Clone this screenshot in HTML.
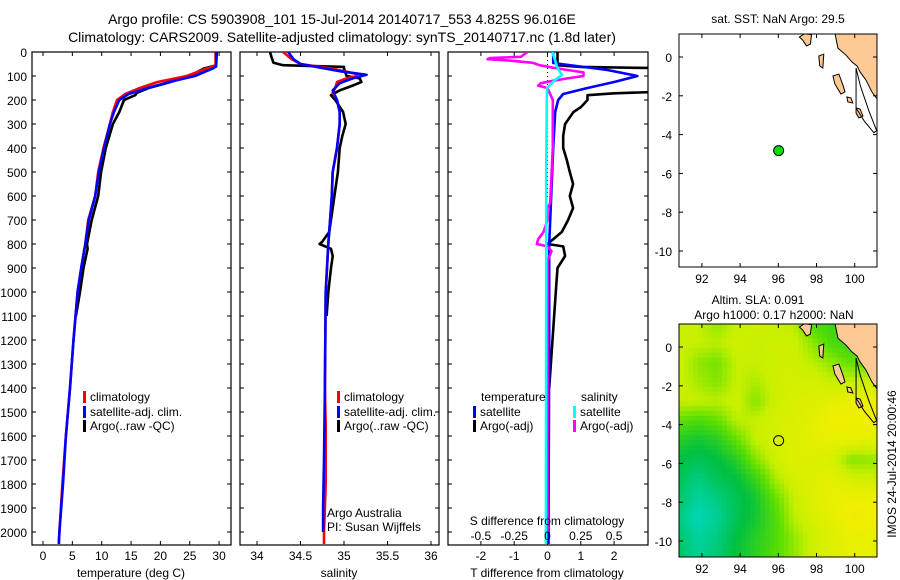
<!DOCTYPE html>
<html><head><meta charset="utf-8"><style>
body{margin:0;background:#fff;}
svg{display:block;font-family:"Liberation Sans",sans-serif;}
text{fill:#000;}
</style></head><body>
<svg id="c" width="900" height="580" viewBox="0 0 900 580" xmlns="http://www.w3.org/2000/svg">
<defs>
<clipPath id="cp1"><rect x="32" y="52" width="199" height="493"/></clipPath>
<clipPath id="cp2"><rect x="240" y="52" width="199" height="493"/></clipPath>
<clipPath id="cp3"><rect x="448" y="52" width="200" height="493"/></clipPath>
<clipPath id="cpm1"><rect x="679" y="34" width="198" height="233"/></clipPath>
<clipPath id="cpm2"><rect x="679" y="324" width="198" height="233"/></clipPath>
</defs>
<text x="342" y="24" font-size="14" text-anchor="middle">Argo profile: CS 5903908_101 15-Jul-2014 20140717_553 4.825S 96.016E</text>
<text x="342" y="42" font-size="14" text-anchor="middle">Climatology: CARS2009. Satellite-adjusted climatology: synTS_20140717.nc (1.8d later)</text>
<g id="g"></g>
</svg>
<script>
// ---------- data ----------
const tClimDepth=[0,55,62,75,100,125,150,175,200,250,300,400,500,600,700,800,900,1000,1200,1400,1600,1800,2000,2050];
const tClim=[29.4,29.4,28.8,27.2,24.5,19.5,16.5,14.0,12.6,11.9,11.4,10.3,9.4,8.9,7.7,7.2,6.5,5.9,5.2,4.6,3.9,3.3,2.8,2.7];
const tSatDepth=[0,60,68,80,100,125,150,175,200,250,300,400,500,600,700,800,900,1000,1200,1400,1600,1800,2000,2050];
const tSat=[29.5,29.5,29.0,27.8,25.9,21.5,17.8,14.6,13.0,12.1,11.4,10.4,9.5,8.9,7.8,7.2,6.5,5.9,5.2,4.6,3.9,3.4,2.8,2.7];
const tArgoDepth=[0,55,62,70,100,130,150,170,180,200,250,300,400,500,600,700,800,820,900,1000,1100];
const tArgo=[29.6,29.5,28.5,27.3,25.0,21.0,18.0,16.0,15.7,13.8,13.0,11.9,10.7,9.9,9.4,8.3,7.5,7.6,6.9,6.3,5.6];

const sClimDepth=[0,30,50,70,90,100,110,125,150,170,200,250,300,400,500,600,700,800,1000,1400,1560,1800,2000,2050];
const sClim=[34.3,34.4,34.5,34.87,35.13,35.15,35.03,34.92,34.9,34.87,34.92,34.95,34.95,34.92,34.87,34.86,34.84,34.82,34.79,34.78,34.79,34.79,34.77,34.77];
const sSatDepth=[0,30,50,80,95,110,130,160,200,250,300,400,500,600,700,800,1000,1400,1700,1900,2000];
const sSat=[34.36,34.42,34.5,34.95,35.26,35.1,34.95,34.87,34.92,34.95,34.95,34.92,34.87,34.86,34.84,34.82,34.79,34.78,34.77,34.76,34.76];
const sArgoDepth=[0,25,45,55,62,70,100,110,125,140,160,180,200,250,300,350,400,500,600,700,750,790,800,820,850,900,1000,1100];
const sArgo=[34.15,34.17,34.19,34.3,35.0,35.0,35.03,35.18,35.2,35.1,34.95,34.85,34.9,34.99,35.02,34.98,34.95,34.93,34.89,34.85,34.83,34.75,34.72,34.85,34.87,34.85,34.82,34.8];

const dTSatDepth=[0,46,75,100,125,150,175,200,250,400,800,1200,2000,2050];
const dTSat=[0.17,0.17,1.8,2.7,2.0,1.2,0.47,0.32,0.23,0.17,0.05,0.05,0.03,0.03];
const dTArgoDepth=[0,55,62,68,165,172,180,200,230,250,300,350,400,450,500,550,600,650,700,750,780,800,810,850,900,1000,1200,1400];
const dTArgo=[0.3,0.3,1.0,3.6,3.6,2.0,1.2,1.2,1.0,0.78,0.53,0.47,0.47,0.58,0.67,0.77,0.67,0.77,0.62,0.43,0.17,0.0,0.47,0.53,0.3,0.25,0.15,0.05];
const dSSatDepth=[0,30,60,80,95,115,150,200,500,1000,2000,2050];
const dSSat=[0.035,0.055,0.07,0.09,0.11,0.06,-0.003,-0.005,-0.01,-0.01,-0.012,-0.012];
const dSArgoDepth=[0,20,25,30,35,45,55,65,75,85,100,110,120,130,140,150,200,300,400,630,650,700,750,780,800,810,830,870,1000,1500,2000];
const dSArgo=[-0.15,-0.2,-0.43,-0.45,-0.3,-0.11,-0.06,0.04,0.15,0.27,0.27,0.15,0.04,-0.05,-0.07,0.0,0.04,0.04,0.04,0.02,0.0,0.0,-0.03,-0.07,-0.08,0.0,0.03,0.0,0.0,0.0,0.0];

const depthTicks=[0,100,200,300,400,500,600,700,800,900,1000,1100,1200,1300,1400,1500,1600,1700,1800,1900,2000];
const tempTicks=[0,5,10,15,20,25,30];
const salTicks=[34,34.5,35,35.5,36];
const dTTicks=[-2,-1,0,1,2];
const dSTicks=[-0.5,-0.25,0,0.25,0.5];
const dSTickLabels=["-0.5","-0.25","0","0.25","0.5"];
const lonTicks=[92,94,96,98,100];
const latTicks=[0,-2,-4,-6,-8,-10];
const argoLon=96.016, argoLat=-4.825;
// SLA grid, 1-degree nodes, rows from lat 1.2 downward, cols from lon 90.8
const slaRows=[
[.70,.70,.62,.70,.72,.70,.68,.50,.45,.45,.45],
[.70,.70,.68,.72,.70,.72,.72,.62,.50,.45,.45],
[.72,.62,.58,.70,.70,.72,.72,.68,.62,.55,.55],
[.72,.65,.60,.70,.66,.72,.74,.74,.70,.70,.72],
[.70,.70,.68,.72,.60,.72,.76,.78,.80,.82,.84],
[.55,.50,.55,.68,.70,.74,.76,.80,.85,.85,.85],
[.40,.35,.40,.55,.70,.74,.78,.80,.82,.82,.80],
[.30,.25,.30,.40,.60,.72,.78,.78,.75,.60,.62],
[.25,.15,.25,.30,.45,.65,.74,.78,.80,.75,.72],
[.20,.08,.15,.25,.35,.55,.70,.78,.82,.84,.84],
[.15,.02,.10,.25,.35,.50,.68,.75,.80,.88,.86],
[.20,.08,.15,.30,.40,.50,.62,.72,.78,.82,.82],
[.22,.10,.18,.32,.42,.52,.62,.72,.78,.82,.82]];
const mainland=[[98.97,1.2],[99.12,0.46],[99.54,0.1],[99.86,-0.26],[100.12,-0.46],[100.28,-0.77],[100.59,-1.19],[100.9,-1.8],[101.2,-2.2],[101.2,1.2]];
const islands=[
[[97.1,1.03],[97.37,1.2],[97.74,1.15],[97.68,0.67],[97.48,0.57],[97.27,0.88]],
[[98.86,-0.98],[99.17,-0.88],[99.38,-1.44],[99.49,-1.8],[99.28,-1.91],[98.96,-1.39]],
[[99.59,-2.06],[99.8,-2.11],[99.9,-2.37],[99.64,-2.32]],
[[100.07,-2.63],[100.28,-2.68],[100.43,-3.04],[100.22,-3.14],[100.07,-2.89]],
[[98.12,0.05],[98.38,0.15],[98.33,-0.57],[98.17,-0.46]]];
const outline=[[100.07,-0.57],[100.07,-2.63],[100.5,-3.3],[101.0,-3.9],[101.15,-3.8],[100.75,-2.8],[100.3,-1.5],[100.07,-0.57]];

// ---------- scales ----------
const yD=d=>52+d*0.24;
const xT=v=>43+v*5.87;
const xS=v=>257+(v-34)*87;
const xDT=v=>547.5+v*33.3;
const xDS=v=>547.5+v*133.2;
const mx=lon=>679+(lon-90.8)*19.1;
const myf=off=>lat=>off+57+(-lat)*19.4;

const NS="http://www.w3.org/2000/svg";
const G=document.getElementById('g');
function mk(tag,attrs,parent){const e=document.createElementNS(NS,tag);for(const k in attrs)e.setAttribute(k,attrs[k]);(parent||G).appendChild(e);return e;}
function txt(x,y,s,size,anchor,parent){const e=mk('text',{x:x,y:y,'font-size':size||12,'text-anchor':anchor||'start'},parent);e.textContent=s;return e;}

function series(depths,vals,xf,color,clip,name){
  const pts=depths.map((d,i)=>xf(vals[i]).toFixed(1)+','+yD(d).toFixed(1)).join(' ');
  const p=mk('polyline',{points:pts,fill:'none',stroke:color,'stroke-width':2.6,'stroke-linejoin':'round','clip-path':'url(#'+clip+')'});
  
  
}
function frame(x0,x1,name){
  const r=mk('rect',{x:x0,y:52,width:x1-x0,height:493,fill:'none',stroke:'#000','stroke-width':1.2});
  
  
}
function xticks(ticks,xf,labels,ylab){
  ticks.forEach((t,i)=>{const x=xf(t);
    mk('line',{x1:x,x2:x,y1:52,y2:56,stroke:'#000'});
    mk('line',{x1:x,x2:x,y1:541,y2:545,stroke:'#000'});
    const l=txt(x,ylab,labels?labels[i]:String(t),12,'middle');
    
    
  });
}
function yticksRight(x0,x1){depthTicks.forEach(d=>{mk('line',{x1:x0,x2:x0+4,y1:yD(d),y2:yD(d),stroke:'#000'});mk('line',{x1:x1-4,x2:x1,y1:yD(d),y2:yD(d),stroke:'#000'});});}
function legendItem(x,y,color,label,name){
  const b=mk('rect',{x:x,y:y-10,width:3,height:12,fill:color});
  
  
  const t=txt(x+7,y,label,12);
  
  
}

// Panel 1 temperature
frame(32,231,'temperature-panel');
yticksRight(32,231);
depthTicks.forEach(d=>{const l=txt(27,yD(d)+5,String(d),12,'end');});
xticks(tempTicks,xT,null,560);
series(tArgoDepth,tArgo,xT,'#000','cp1','temp-argo-line');
series(tClimDepth,tClim,xT,'#f00','cp1','temp-climatology-line');
series(tSatDepth,tSat,xT,'#00f','cp1','temp-satellite-line');
let a=txt(131,577,'temperature (deg C)',12,'middle');
legendItem(83,401,'#f00','climatology','legend-climatology');
legendItem(83,416,'#00f','satellite-adj. clim.','legend-satellite');
legendItem(83,430,'#000','Argo(..raw -QC)','legend-argo');

// Panel 2 salinity
frame(240,439,'salinity-panel');
yticksRight(240,439);
xticks(salTicks,xS,null,560);
series(sArgoDepth,sArgo,xS,'#000','cp2','sal-argo-line');
series(sClimDepth,sClim,xS,'#f00','cp2','sal-climatology-line');
series(sSatDepth,sSat,xS,'#00f','cp2','sal-satellite-line');
a=txt(339,577,'salinity',12,'middle');
legendItem(337,401,'#f00','climatology','legend-climatology-2');
legendItem(337,416,'#00f','satellite-adj. clim.','legend-satellite-2');
legendItem(337,430,'#000','Argo(..raw -QC)','legend-argo-2');
a=txt(327,517,'Argo Australia',12);
a=txt(327,531,'PI: Susan Wijffels',12);

// Panel 3 differences
frame(448,648,'difference-panel');
yticksRight(448,648);
xticks(dTTicks,xDT,null,560);
mk('line',{x1:xDT(0),x2:xDT(0),y1:52,y2:200,stroke:'#000','stroke-dasharray':'1,3','stroke-width':1});
series(dTArgoDepth,dTArgo,xDT,'#000','cp3','tdiff-argo-line');
series(dTSatDepth,dTSat,xDT,'#00f','cp3','tdiff-satellite-line');
series(dSArgoDepth,dSArgo,xDS,'#f0f','cp3','sdiff-argo-line');
series(dSSatDepth,dSSat,xDS,'#0ff','cp3','sdiff-satellite-line');
dSTicks.forEach((t,i)=>{const l=txt(xDS(t),540,dSTickLabels[i],12,'middle');});
a=txt(547,525,'S difference from climatology',12,'middle');
a=txt(547,577,'T difference from climatology',12,'middle');
a=txt(481,401,'temperature',12);
a=txt(581,401,'salinity',12);
legendItem(473,416,'#00f','satellite','legend-t-satellite');
legendItem(473,430,'#000','Argo(-adj)','legend-t-argo');
legendItem(573,416,'#0ff','satellite','legend-s-satellite');
legendItem(573,430,'#f0f','Argo(-adj)','legend-s-argo');

// ---------- maps ----------
function cmap(v){
  const stops=[[0,[0,216,192]],[0.3,[0,192,64]],[0.55,[96,224,0]],[0.7,[200,240,0]],[0.85,[240,240,0]],[1,[248,208,32]]];
  for(let i=1;i<stops.length;i++){if(v<=stops[i][0]){const [a0,c0]=stops[i-1],[a1,c1]=stops[i];const f=(v-a0)/(a1-a0);return 'rgb('+c0.map((c,k)=>Math.round(c+(c1[k]-c)*f)).join(',')+')';}}
  return 'rgb(248,208,32)';
}
function slaAt(r,c){ // bilinear on node grid
  const r0=Math.min(Math.floor(r),slaRows.length-2),c0=Math.min(Math.floor(c),slaRows[0].length-2);
  const fr=r-r0,fc=c-c0;
  const v00=slaRows[r0][c0],v01=slaRows[r0][c0+1],v10=slaRows[r0+1][c0],v11=slaRows[r0+1][c0+1];
  return v00*(1-fr)*(1-fc)+v01*(1-fr)*fc+v10*fr*(1-fc)+v11*fr*fc;
}
function drawMap(off,clip,withSla,title1,title2,dotFill,name){
  const my=myf(off);
  const grp=mk('g',{'clip-path':'url(#'+clip+')'});
  
  
  if(withSla){
    const step=0.25;
    for(let r=0;r<12;r+=step){for(let c=0;c<10.5;c+=step){
      const v=slaAt(r+step/2,c+step/2);
      const cell=mk('rect',{x:(mx(90.8+c)).toFixed(1),y:(my(1.2-r)).toFixed(1),width:(19.1*step+0.6).toFixed(1),height:(19.4*step+0.6).toFixed(1),fill:cmap(v)},grp);
      
      
    }}
  }
  const land=mk('polygon',{points:mainland.map(p=>mx(p[0])+','+my(p[1])).join(' '),fill:'#fdc994',stroke:'#000','stroke-width':1},grp);
  
  
  islands.forEach(isl=>{const e=mk('polygon',{points:isl.map(p=>mx(p[0])+','+my(p[1])).join(' '),fill:'#fdc994',stroke:'#000','stroke-width':1},grp);
    });
  mk('polyline',{points:outline.map(p=>mx(p[0])+','+my(p[1])).join(' '),fill:'none',stroke:'#000','stroke-width':1},grp);
  const d=mk('circle',{cx:mx(argoLon),cy:my(argoLat),r:5,fill:dotFill,stroke:'#000','stroke-width':1});
  
  
  const fr=mk('rect',{x:679,y:off+34,width:198,height:233,fill:'none',stroke:'#000','stroke-width':1});
  
  
  lonTicks.forEach(t=>{const x=mx(t);mk('line',{x1:x,x2:x,y1:off+34,y2:off+38,stroke:'#000'});mk('line',{x1:x,x2:x,y1:off+263,y2:off+267,stroke:'#000'});
    const l=txt(x,off+283,String(t),12,'middle');});
  latTicks.forEach(t=>{const y=my(t);mk('line',{x1:679,x2:683,y1:y,y2:y,stroke:'#000'});mk('line',{x1:873,x2:877,y1:y,y2:y,stroke:'#000'});
    const l=txt(672,y+5,String(t),12,'end');});
  let t1=txt(title1[1],title1[2],title1[0],12,'middle');
  if(title2){let t2=txt(title2[1],title2[2],title2[0],12,'middle');}
}
drawMap(0,'cpm1',false,['sat. SST: NaN Argo: 29.5',778,23],null,'#00e000','sst-map');
drawMap(290,'cpm2',true,['Altim. SLA: 0.091',758,304],['Argo h1000: 0.17 h2000: NaN',774,319],'#d8f000','sla-map');

const side=txt(0,0,'IMOS 24-Jul-2014 20:00:46',12,'middle');
side.setAttribute('transform','translate(896,464) rotate(-90)');


</script>
</body></html>
